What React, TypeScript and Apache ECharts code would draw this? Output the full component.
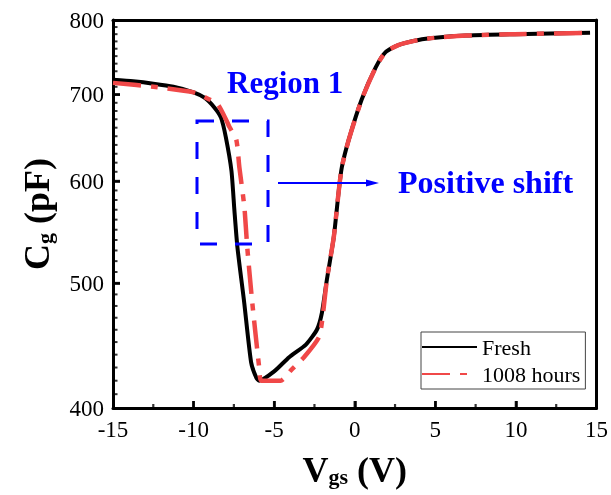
import React, { useEffect, useRef } from 'react';
import * as echarts from 'echarts';

// Fresh device
const freshV = [-15, -13.75, -12.5, -11.25, -10, -9.3, -8.7, -8.3, -8.0, -7.65, -7.47, -7.28, -6.86, -6.43, -6.1, -5.93, -5.0, -4.07, -3.03, -2.35, -2.04, -1.73, -1.3, -0.99, -0.8, -0.37, 0.43, 1.3, 1.9, 2.7, 3.96, 5.0, 6.9, 9.9, 14.6];
const freshC = [719, 717, 714, 710, 703, 696, 684, 672, 649, 611, 570, 533, 483, 434, 422, 420, 427, 438, 448, 460, 474, 503, 543, 590, 615, 646, 694, 735, 755, 765, 772, 775, 778, 780, 782];

// After 1008 hours
const agedV = [-15, -12.5, -10, -9.3, -8.5, -7.9, -7.78, -7.35, -7.16, -6.85, -6.67, -6.36, -5.93, -5.8, -4.6, -3.95, -3.15, -2.22, -2.0, -1.73, -1.3, -0.99, -0.8, -0.37, 0.43, 1.3, 1.9, 2.7, 3.96, 5.0, 6.9, 9.9, 14.6];
const agedC = [715, 710, 703, 697, 688, 666, 661, 646, 615, 573, 533, 483, 430, 420, 420, 428, 438, 454, 470, 503, 543, 590, 615, 646, 694, 735, 755, 765, 772, 775, 778, 780, 782];

const seriesNames = ['Fresh', '1008 hours'];
const xMin = -15;
const xMax = 15;
const xInterval = 5;
const xMinorInterval = 2.5;
const yTicks = [400, 500, 600, 700, 800];
const yMinorStep = 10;

const FONT = 'Times New Roman';

export default function App() {
  const ref = useRef<HTMLDivElement>(null);
  useEffect(() => {
    if (!ref.current) return;
    const chart = echarts.init(ref.current, null, { renderer: 'svg' });
    const lg = (v: number) => Math.log10(v);
    const nameRich = {
      m: { fontSize: 36, fontWeight: 'bold', fontFamily: FONT, color: '#000', verticalAlign: 'top', lineHeight: 36 },
      s: { fontSize: 22, fontWeight: 'bold', fontFamily: FONT, color: '#000', verticalAlign: 'bottom', lineHeight: 22, padding: [20, 0, 0, 0] },
    };
    const yMin = lg(yTicks[0]);
    const yMax = lg(yTicks[yTicks.length - 1]);
    const frameLine = { show: true, onZero: false, lineStyle: { color: '#000', width: 3 } };

    const xMajorTicks: number[] = [];
    const xMinorTicks: number[] = [];
    for (let v = xMin + xMinorInterval; v < xMax - 1e-9; v += xMinorInterval) {
      const major = Math.abs(v / xInterval - Math.round(v / xInterval)) < 1e-9;
      (major ? xMajorTicks : xMinorTicks).push(v);
    }
    const yMajorTicks: number[] = [];
    const yMinorTicks: number[] = [];
    for (let c = yTicks[0] + yMinorStep; c < yTicks[yTicks.length - 1]; c += yMinorStep) {
      (c % 100 === 0 ? yMajorTicks : yMinorTicks).push(c);
    }
    const tickSeries = (data: number[][], w: number, h: number, ox: number, oy: number) => ({
      type: 'scatter', silent: true, clip: false, z: 5,
      symbol: 'rect', symbolSize: [w, h], symbolOffset: [ox, oy],
      itemStyle: { color: '#000' },
      data,
      tooltip: { show: false },
    });

    chart.setOption({
      animation: false,
      grid: { left: 113, right: 12, top: 20, bottom: 87 },
      legend: {
        orient: 'vertical', left: 421, top: 332, padding: [4, 5, 4, 0], itemGap: 5,
        itemWidth: 55, itemHeight: 22, itemTextGap: 3, borderColor: '#444', borderWidth: 1,
        itemStyle: { opacity: 0 },
        textStyle: { fontFamily: FONT, fontSize: 22, color: '#000' },
        data: seriesNames,
      },
      xAxis: [
        {
          type: 'value', min: xMin, max: xMax, interval: xInterval, position: 'bottom',
          axisLine: frameLine,
          axisTick: { show: true, inside: true, length: 7, lineStyle: { color: '#000', width: 2.5 } },
          axisLabel: { fontFamily: FONT, fontSize: 23, color: '#000', margin: 10 },
          splitLine: { show: false },
          name: '{m|V}{s|gs}{m| (V)}',
          nameLocation: 'middle', nameGap: 37,
          nameTextStyle: { rich: nameRich },
        },
        {
          type: 'value', min: xMin, max: xMax, interval: xInterval, position: 'top',
          axisLine: frameLine,
          axisTick: { show: false }, axisLabel: { show: false }, splitLine: { show: false },
        },
      ],
      yAxis: [
        {
          type: 'value', min: yMin, max: yMax, position: 'left',
          axisLine: frameLine,
          axisTick: { show: true, inside: true, length: 7, lineStyle: { color: '#000', width: 2.5 }, customValues: yTicks.map(lg) },
          axisLabel: {
            fontFamily: FONT, fontSize: 23, color: '#000', margin: 9,
            customValues: yTicks.map(lg),
            formatter: (v: number) => String(Math.round(Math.pow(10, v))),
          },
          splitLine: { show: false },
          name: '{m|C}{s|g}{m| (pF)}',
          nameLocation: 'middle', nameGap: 58, nameRotate: 90,
          nameTextStyle: { rich: nameRich },
        },
        {
          type: 'value', min: yMin, max: yMax, position: 'right',
          axisLine: frameLine,
          axisLabel: { show: false }, axisTick: { show: false }, splitLine: { show: false },
        },
      ],
      series: [
        {
          name: seriesNames[0], type: 'line', symbol: 'none', smooth: 0.2,
          data: freshV.map((v, i) => [v, lg(freshC[i])]),
          lineStyle: { color: '#000', width: 4 },
          itemStyle: { color: '#000' },
        },
        {
          name: seriesNames[1], type: 'line', symbol: 'none', smooth: 0.2,
          data: agedV.map((v, i) => [v, lg(agedC[i])]),
          lineStyle: { color: '#f04848', width: 4.5, type: [28, 10, 7, 10] },
          itemStyle: { color: '#f04848' },
        },
        tickSeries(xMajorTicks.map((v) => [v, yMin]), 2.5, 7, 0, -3.5),
        tickSeries(xMinorTicks.map((v) => [v, yMin]), 2.2, 4, 0, -2),
        tickSeries(yMajorTicks.map((c) => [xMin, lg(c)]), 7, 2.5, 3.5, 0),
        tickSeries(yMinorTicks.map((c) => [xMin, lg(c)]), 4.5, 2, 2.25, 0),
      ],
      graphic: [
        {
          type: 'rect', shape: { x: 197, y: 121, width: 71, height: 123 }, z: 10,
          style: { fill: 'none', stroke: '#0000ff', lineWidth: 3, lineDash: [17, 18] },
        },
        {
          type: 'line', shape: { x1: 278, y1: 183, x2: 370, y2: 183 }, z: 10,
          style: { stroke: '#0000ff', lineWidth: 1.8 },
        },
        {
          type: 'polygon', shape: { points: [[366, 179.5], [379, 183], [366, 186.5]] }, z: 10,
          style: { fill: '#0000ff' },
        },
        {
          type: 'text', x: 227, y: 82, z: 10,
          style: { text: 'Region 1', fill: '#0000ff', fontFamily: FONT, fontSize: 31, fontWeight: 'bold', verticalAlign: 'middle' },
        },
        {
          type: 'text', x: 398, y: 182, z: 10,
          style: { text: 'Positive shift', fill: '#0000ff', fontFamily: FONT, fontSize: 32, fontWeight: 'bold', verticalAlign: 'middle' },
        },
      ],
    });
    return () => chart.dispose();
  }, []);
  return <div ref={ref} style={{ position: 'fixed', left: 0, top: 0, width: 611, height: 495 }} />;
}
